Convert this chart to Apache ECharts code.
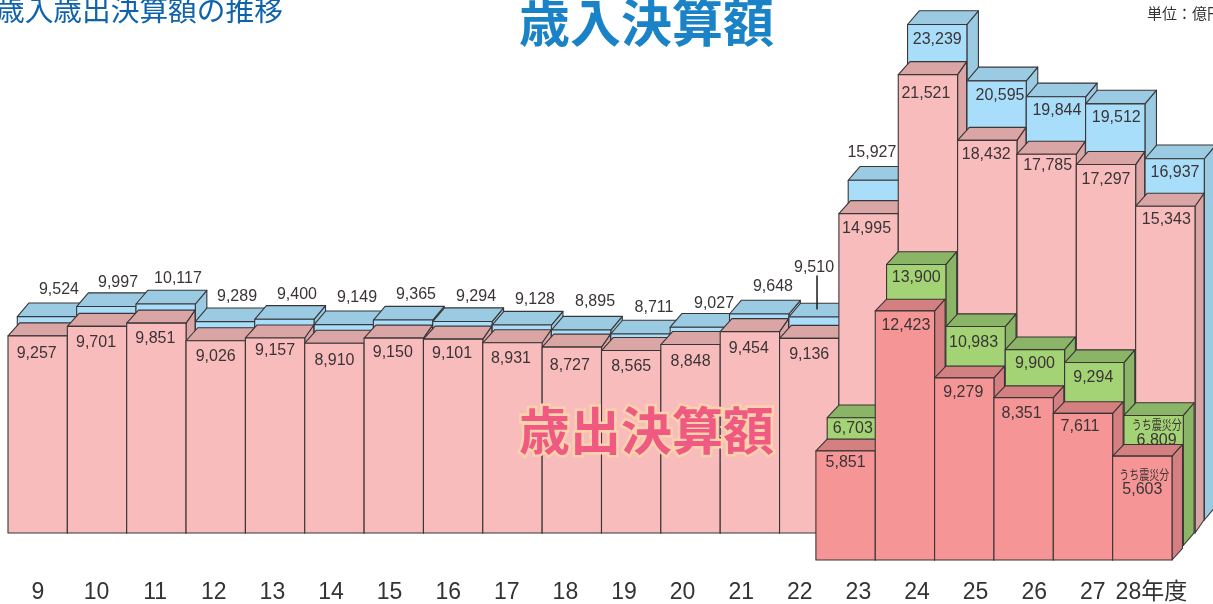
<!DOCTYPE html>
<html lang="ja">
<head>
<meta charset="utf-8">
<title>歳入歳出決算額の推移</title>
<style>html,body{margin:0;padding:0;background:#fff;overflow:hidden}#chart{width:1213px;height:604px}</style>
<script src="https://cdn.jsdelivr.net/npm/echarts@6/dist/echarts.min.js"></script>
</head>
<body>
<div id="chart"></div>
<script>
// ---------- data ----------
const categories = ['9','10','11','12','13','14','15','16','17','18','19','20','21','22','23','24','25','26','27','28年度'];
const revenue = [9524,9997,10117,9289,9400,9149,9365,9294,9128,8895,8711,9027,9648,9510,15927,23239,20595,19844,19512,16937];
const expenditure = [9257,9701,9851,9026,9157,8910,9150,9101,8931,8727,8565,8848,9454,9136,14995,21521,18432,17785,17297,15343];
const quakeRevenue = [6703,13900,10983,9900,9294,6809];
const quakeExpenditure = [5851,12423,9279,8351,7611,5603];
const quakeStart = 14;
const quakeCaption = 'うち震災分';

// ---------- label nudges (px, from bar centre / bar top) ----------
const revenueNudge = [[12,-28.6],[11.7,-25.6],[12.3,-27],[12,-26.6],[12.6,-26.3],[13.3,-28.6],[12.9,-27],[13.6,-26.5],[13.2,-27],[13.9,-30],[13.5,-28],[14.2,-25],[13.8,-29],[-4.5,-51],[-6,-29],[0,13.5],[3.4,13],[1,12],[1,12],[0.4,12]];
const expenditureNudge = [[-1,16],[-1,15],[-1,14],[0,14],[0,11.5],[0,16],[-1,13],[-1,13],[-1.5,14],[-2,17],[0,15],[0,15.5],[-1,15],[0,15],[-2,13],[-2,17],[-1,13],[1,10],[0,14],[1,12]];
const quakeRevenueNudge = [[-4,9],[0,12],[-2,15],[0,12],[-1,13.5],[3,23.5]];
const quakeExpenditureNudge = [[0,10],[1,13],[-1,13],[-2,14.5],[-3,12],[0,32]];

// ---------- layer styles ----------
const layers = {
  revenue:  {dx:9.3,  zero:-13.5, floor:-13, depthL:11.7, depthR:11.5, rise:13.7, front:'#a8defa', face:'#9bcbe3'},
  expend:   {dx:0,    zero:0,     floor:0,   depthL:11.7, depthR:9,    rise:13,   front:'#f9bcbc', face:'#d9a5a5'},
  quakeRev: {dx:-11.7,zero:27.5,  floor:12.5,depthL:11.7, depthR:10.8, rise:12.7, front:'#a3d375', face:'#8ab567'},
  quakeExp: {dx:-23,  zero:42.5,  floor:27,  depthL:11.3, depthR:10.5, rise:11.7, front:'#f59595', face:'#d48080'}
};
const edge = '#3a3536';
const font = '"Liberation Sans","Noto Sans CJK JP",sans-serif';
const barStep = 59.35;
const textColor = '#3a3436';
const labelBaselineFix = 1.5;

function barSeries(name, layer, values, nudges, startIndex, opts) {
  opts = opts || {};
  return {
    type: 'custom', name, xAxisIndex: 0, yAxisIndex: 0, silent: true, clip: false,
    data: values.map((v, i) => [startIndex + i, v]),
    renderItem(params, api) {
      const idx = api.value(0), val = api.value(1);
      const i = params.dataIndex;
      const center = api.coord([idx, 0])[0];
      const w = api.size([1, 0])[0];
      const zeroY = api.coord([idx, 0])[1];
      const topY = api.coord([idx, val])[1] + layer.zero;
      const baseY = zeroY + layer.floor;
      const x0 = center - w / 2 + layer.dx, x1 = x0 + w;
      const stroke = {stroke: edge, lineWidth: 1.1, lineJoin: 'round'};
      const poly = (pts, fill) => ({type: 'polygon', shape: {points: pts}, style: Object.assign({fill}, stroke)});
      const children = [
        poly([[x1, topY], [x1 + layer.depthR, topY - layer.rise], [x1 + layer.depthR, baseY - layer.rise], [x1, baseY]], layer.face),
        poly([[x0, topY], [x0 + layer.depthL, topY - layer.rise], [x1 + layer.depthR, topY - layer.rise], [x1, topY]], layer.face),
        poly([[x0, topY], [x1, topY], [x1, baseY], [x0, baseY]], layer.front)
      ];
      const cx = x0 + w / 2;
      const n = nudges[i];
      const lx = cx + n[0], ly = topY + n[1] + labelBaselineFix;
      children.push({type: 'text', style: {x: lx, y: ly, text: val.toLocaleString('en-US'), font: '16px ' + font, fill: textColor, align: 'center', verticalAlign: 'middle'}});
      if (opts.captionAt === i) {
        children.push({type: 'text', x: lx + opts.captionDx, y: ly + opts.captionDy, scaleY: 1.3,
          style: {x: 0, y: 0, text: quakeCaption, font: '10px "Noto Sans CJK JP",sans-serif', fill: textColor, align: 'center', verticalAlign: 'middle'}});
      }
      if (opts.leaderAt === i) {
        children.push({type: 'line', shape: {x1: lx + 3, y1: ly + 8, x2: lx + 3, y2: ly + 42}, style: {stroke: '#1a1a1a', lineWidth: 1.5}});
      }
      return {type: 'group', children};
    }
  };
}

const chart = echarts.init(document.getElementById('chart'), null, {renderer: 'canvas'});
chart.setOption({
  animation: false,
  backgroundColor: '#ffffff',
  title: [
    {text: '歳入歳出決算額の推移', left: -4, top: -4, padding: 0, textStyle: {fontFamily: '"Noto Sans CJK JP"', fontSize: 28.7, fontWeight: 'normal', color: '#0f62ac'}},
    {text: '歳入決算額', left: 519, top: -3, padding: 0, textStyle: {fontFamily: '"Noto Sans CJK JP"', fontSize: 51, fontWeight: 'bold', color: '#1a82c6'}},
    {text: '歳出決算額', left: 519, top: 405, padding: 0, textStyle: {fontFamily: '"Noto Sans CJK JP"', fontSize: 51, fontWeight: 'bold', color: '#f05a82', textBorderColor: '#fbd2ac', textBorderWidth: 5}},
    {text: '単位：億円', left: 1147, top: 6, padding: 0, textStyle: {fontFamily: '"Noto Sans CJK JP"', fontSize: 15, fontWeight: 'normal', color: '#333'}}
  ],
  grid: [
    {left: 8, top: 0.5, width: barStep * categories.length, height: 532.5},
    {left: 8.7, top: 0.5, width: 1172, height: 532.5}
  ],
  xAxis: [
    {gridIndex: 0, type: 'category', data: categories, show: false},
    {gridIndex: 1, type: 'category', data: categories, axisLine: {show: false}, axisTick: {show: false},
     axisLabel: {interval: 0, margin: 48, fontSize: 23, color: '#333', fontFamily: font, hideOverlap: false}}
  ],
  yAxis: [
    {gridIndex: 0, type: 'value', min: 0, max: 25000, show: false},
    {gridIndex: 1, type: 'value', min: 0, max: 25000, show: false}
  ],
  series: [
    barSeries('歳入決算額', layers.revenue, revenue, revenueNudge, 0, {leaderAt: 13}),
    barSeries('歳出決算額', layers.expend, expenditure, expenditureNudge, 0),
    barSeries('歳入うち震災分', layers.quakeRev, quakeRevenue, quakeRevenueNudge, quakeStart, {captionAt: 5, captionDx: 0, captionDy: -16}),
    barSeries('歳出うち震災分', layers.quakeExp, quakeExpenditure, quakeExpenditureNudge, quakeStart, {captionAt: 5, captionDx: 2, captionDy: -16}),
    {type: 'custom', xAxisIndex: 1, yAxisIndex: 1, data: [], renderItem() { return null; }}
  ]
});
</script>
</body>
</html>
